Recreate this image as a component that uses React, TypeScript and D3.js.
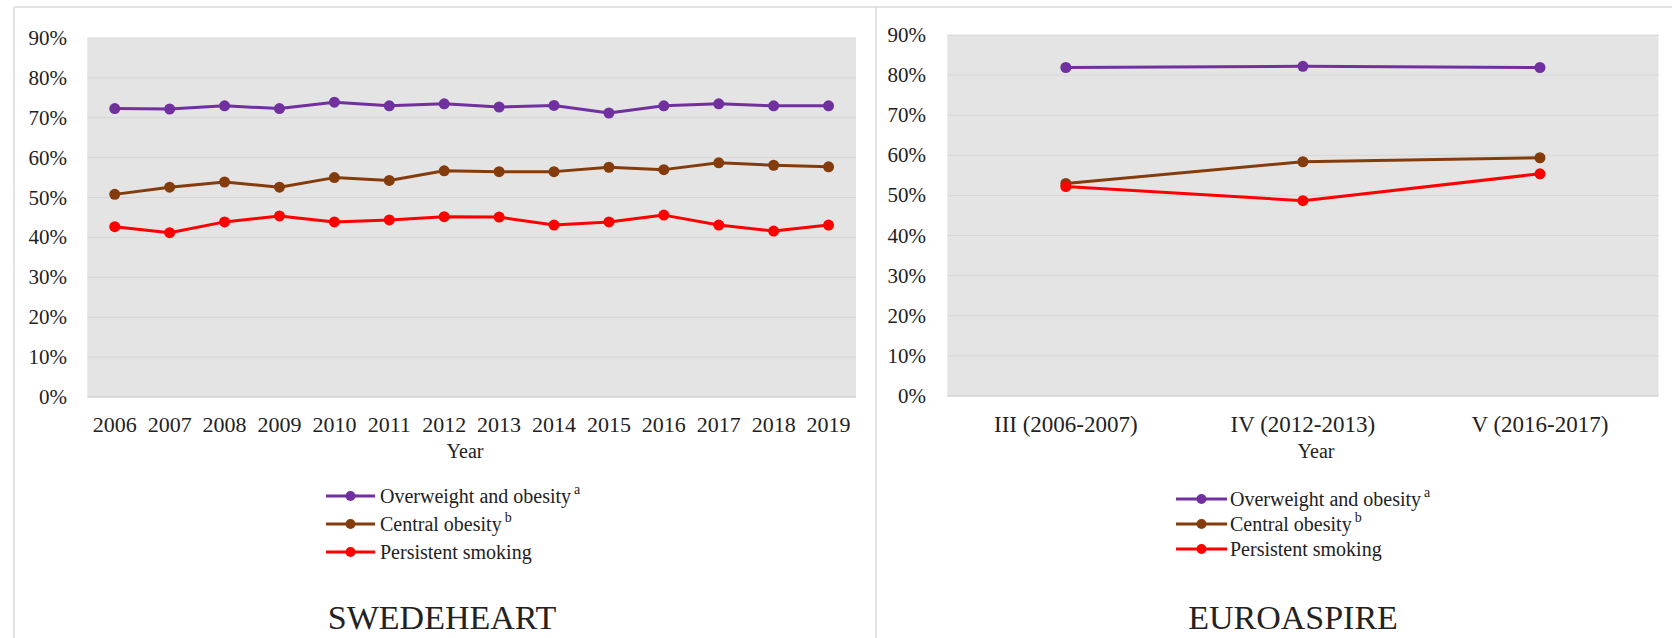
import React from 'react';
import * as d3 from 'd3';

// ---------- Data ----------
const swedeYears = ['2006', '2007', '2008', '2009', '2010', '2011', '2012', '2013', '2014', '2015', '2016', '2017', '2018', '2019'];
const swedeOverweight = [72.3, 72.2, 73.0, 72.3, 73.9, 73.0, 73.5, 72.7, 73.1, 71.2, 73.0, 73.5, 73.0, 73.0];
const swedeCentral = [50.8, 52.6, 53.9, 52.6, 55.0, 54.3, 56.7, 56.5, 56.5, 57.6, 57.0, 58.7, 58.1, 57.7];
const swedeSmoking = [42.7, 41.2, 43.9, 45.4, 43.9, 44.4, 45.2, 45.1, 43.1, 43.9, 45.6, 43.1, 41.6, 43.1];

const euroSurveys = ['III (2006-2007)', 'IV (2012-2013)', 'V (2016-2017)'];
const euroOverweight = [81.9, 82.2, 81.9];
const euroCentral = [53.0, 58.4, 59.4];
const euroSmoking = [52.2, 48.7, 55.4];

const yTicks = [0, 10, 20, 30, 40, 50, 60, 70, 80, 90];

const seriesNames = ['Overweight and obesity', 'Central obesity', 'Persistent smoking'];
const seriesSup = ['a', 'b', ''];
const seriesColors = ['#7030A0', '#843C0C', '#FF0000'];

const FONT = '"Liberation Serif", "Times New Roman", serif';

type PanelProps = {
  cats: string[];
  series: number[][];
  x0: number; x1: number; y0: number; y1: number;
  tickRight: number;
  tickFont: number;
  catFont: number;
  yearX: number;
  legend: { lineX0: number; lineX1: number; textX: number; rows: number[] };
  title: string; titleX: number;
};

function Panel(p: PanelProps) {
  const x = d3.scalePoint<string>().domain(p.cats).range([p.x0, p.x1]).padding(0.5);
  const y = d3.scaleLinear().domain([0, 90]).range([p.y0, p.y1]);
  const line = d3.line<[string, number]>().x(d => x(d[0]) as number).y(d => y(d[1]));
  return (
    <g>
      <rect x={p.x0} y={y(90)} width={p.x1 - p.x0} height={y(0) - y(90)} fill="#e4e4e4" />
      {yTicks.map(t => (
        <line key={'g' + t} x1={p.x0} x2={p.x1} y1={y(t)} y2={y(t)} stroke={t === 0 ? '#d2d2d2' : '#d6d6d6'} strokeWidth={t === 0 ? 1.5 : 1} />
      ))}
      {yTicks.map(t => (
        <text key={'t' + t} x={p.tickRight} y={y(t)} textAnchor="end" dominantBaseline="central" fontSize={p.tickFont} fill="#222">{t + '%'}</text>
      ))}
      {p.cats.map(c => (
        <text key={'c' + c} x={x(c) as number} y={432} textAnchor="middle" fontSize={p.catFont} fill="#222">{c}</text>
      ))}
      <text x={p.yearX} y={458} textAnchor="middle" fontSize={20} fill="#222">Year</text>
      {p.series.map((s, i) => {
        const pts: [string, number][] = p.cats.map((c, j) => [c, s[j]]);
        return (
          <g key={'s' + i}>
            <path d={line(pts) as string} fill="none" stroke={seriesColors[i]} strokeWidth={3} strokeLinejoin="round" />
            {pts.map((d, j) => (
              <circle key={j} cx={x(d[0]) as number} cy={y(d[1])} r={5.5} fill={seriesColors[i]} />
            ))}
          </g>
        );
      })}
      {seriesNames.map((n, i) => {
        const ry = p.legend.rows[i];
        return (
          <g key={'l' + i}>
            <line x1={p.legend.lineX0} x2={p.legend.lineX1} y1={ry} y2={ry} stroke={seriesColors[i]} strokeWidth={3} />
            <circle cx={(p.legend.lineX0 + p.legend.lineX1) / 2} cy={ry} r={5} fill={seriesColors[i]} />
            <text x={p.legend.textX} y={ry} dominantBaseline="central" fontSize={20} fill="#222">
              {n}
              {seriesSup[i] ? <tspan dx={3} dy={-7} fontSize={14}>{seriesSup[i]}</tspan> : null}
            </text>
          </g>
        );
      })}
      <text x={p.titleX} y={629} textAnchor="middle" fontSize={34} fill="#222">{p.title}</text>
    </g>
  );
}

export default function App() {
  return (
    <svg width={1672} height={638} style={{ position: 'absolute', left: 0, top: 0, background: '#fff', fontFamily: FONT }}>
      <rect x={0} y={0} width={1672} height={638} fill="#fff" />
      <line x1={14} x2={1672} y1={7} y2={7} stroke="#dadada" strokeWidth={1.5} />
      <line x1={14} x2={14} y1={7} y2={638} stroke="#dadada" strokeWidth={1.5} />
      <line x1={876} x2={876} y1={7} y2={638} stroke="#dadada" strokeWidth={1.5} />
      <Panel
        cats={swedeYears}
        series={[swedeOverweight, swedeCentral, swedeSmoking]}
        x0={87.3} x1={856} y0={397} y1={38}
        tickRight={67} tickFont={21} catFont={22}
        yearX={465}
        legend={{ lineX0: 326, lineX1: 375, textX: 380, rows: [496, 524, 552] }}
        title="SWEDEHEART" titleX={442}
      />
      <Panel
        cats={euroSurveys}
        series={[euroOverweight, euroCentral, euroSmoking]}
        x0={947.3} x1={1658.5} y0={396} y1={35}
        tickRight={926} tickFont={21} catFont={23}
        yearX={1316}
        legend={{ lineX0: 1176, lineX1: 1227, textX: 1230, rows: [499, 524, 549] }}
        title="EUROASPIRE" titleX={1293}
      />
    </svg>
  );
}
